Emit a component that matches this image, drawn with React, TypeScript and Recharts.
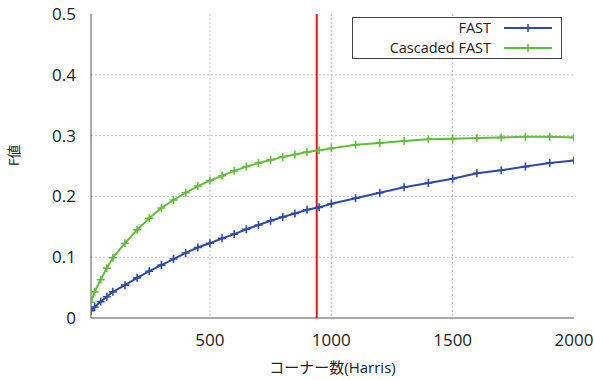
import React from 'react'
import {
  LineChart,
  Line,
  XAxis,
  YAxis,
  CartesianGrid,
  ReferenceLine,
} from 'recharts'

const corners = [
  10, 25, 50, 75, 100, 150, 200, 250, 300, 350, 400, 450, 500, 550, 600, 650, 700, 750, 800, 850,
  900, 950, 1000, 1100, 1200, 1300, 1400, 1500, 1600, 1700, 1800, 1900, 2000,
]
const fastValues = [
  0.012, 0.018, 0.027, 0.035, 0.043, 0.054, 0.066, 0.077, 0.087, 0.097, 0.107, 0.116, 0.123,
  0.131, 0.138, 0.146, 0.153, 0.16, 0.166, 0.172, 0.178, 0.182, 0.188, 0.197, 0.206, 0.215,
  0.222, 0.229, 0.238, 0.243, 0.249, 0.255, 0.259,
]
const cascadedValues = [
  0.026, 0.043, 0.063, 0.082, 0.099, 0.123, 0.145, 0.164, 0.181, 0.194, 0.206, 0.217, 0.226,
  0.234, 0.242, 0.249, 0.255, 0.26, 0.265, 0.269, 0.273, 0.276, 0.279, 0.285, 0.288, 0.291,
  0.294, 0.295, 0.296, 0.297, 0.298, 0.298, 0.297,
]
const xTicks = [500, 1000, 1500, 2000]
const yTicks = [0, 0.1, 0.2, 0.3, 0.4, 0.5]
const threshold = 940

const data = corners.map((c, i) => ({ c, fast: fastValues[i], cascaded: cascadedValues[i] }))

const BLUE = '#2d4aa6'
const GREEN = '#62be3a'
const FONT = '"Open Sans", "Noto Sans CJK JP", sans-serif'

const Plus = (color: string) => (props: any) => {
  const { cx, cy, index } = props
  if (cx == null || cy == null) return <g key={index} />
  return (
    <path
      key={index}
      d={`M${cx - 4},${cy}H${cx + 4}M${cx},${cy - 4}V${cy + 4}`}
      stroke={color}
      strokeWidth={1.6}
      fill="none"
    />
  )
}

const LegendBox = () => {
  const rows = [
    { name: 'FAST', color: BLUE },
    { name: 'Cascaded FAST', color: GREEN },
  ]
  return (
    <div
      style={{
        position: 'absolute',
        left: 352,
        top: 17,
        width: 210,
        height: 42,
        border: '1px solid #444',
        background: '#fff',
        fontFamily: FONT,
        fontSize: 14.5,
        color: '#222',
        boxSizing: 'border-box',
      }}
    >
      {rows.map((r) => (
        <div key={r.name} style={{ display: 'flex', alignItems: 'center', height: 20 }}>
          <span style={{ width: 138, textAlign: 'right', lineHeight: '20px', whiteSpace: 'nowrap' }}>
            {r.name}
          </span>
          <svg width={50} height={20} style={{ marginLeft: 13 }}>
            <line x1={0} y1={10} x2={48} y2={10} stroke={r.color} strokeWidth={2} />
            <path d="M24,6V14" stroke={r.color} strokeWidth={1.6} />
          </svg>
        </div>
      ))}
    </div>
  )
}

export default function App() {
  return (
    <div style={{ position: 'relative', width: 594, height: 380, background: '#fff' }}>
      <style>{'body{margin:0}'}</style>
      <LineChart
        width={594}
        height={380}
        data={data}
        margin={{ top: 14, right: 20, bottom: 0, left: 0 }}
      >
        <CartesianGrid
          stroke="#c4c4c4"
          strokeDasharray="2 2"
          horizontalValues={[0.1, 0.2, 0.3, 0.4]}
          verticalValues={[500, 1000, 1500]}
        />
        <XAxis
          dataKey="c"
          type="number"
          domain={[10, 2000]}
          ticks={xTicks}
          allowDataOverflow
          height={62}
          stroke="#555"
          tickLine={false}
          tick={{ fill: '#222', fontSize: 17, fontFamily: FONT }}
          tickMargin={10}
          label={{
            value: 'コーナー数(Harris)',
            position: 'insideBottom',
            offset: 7,
            fill: '#222',
            fontSize: 15,
            fontFamily: FONT,
          }}
        />
        <XAxis xAxisId="top" orientation="top" dataKey="c" type="number" domain={[10, 2000]} height={0} tick={false} tickLine={false} stroke="#555" />
        <YAxis
          type="number"
          domain={[0, 0.5]}
          ticks={yTicks}
          width={91}
          stroke="#555"
          tickLine={false}
          tickFormatter={(v) => String(Number(v.toFixed(1)))}
          tick={{ fill: '#222', fontSize: 17, fontFamily: FONT }}
          tickMargin={9}
          label={{
            value: 'F値',
            angle: -90,
            position: 'insideLeft',
            offset: 14,
            fill: '#222',
            fontSize: 14,
            fontFamily: FONT,
          }}
        />
        <YAxis yAxisId="right" orientation="right" domain={[0, 0.5]} width={0} tick={false} tickLine={false} stroke="#555" />
        <ReferenceLine x={threshold} stroke="#e8141a" strokeWidth={2} />
        <Line
          dataKey="fast"
          name="FAST"
          stroke={BLUE}
          strokeWidth={2}
          dot={Plus(BLUE)}
          isAnimationActive={false}
        />
        <Line
          dataKey="cascaded"
          name="Cascaded FAST"
          stroke={GREEN}
          strokeWidth={2}
          dot={Plus(GREEN)}
          isAnimationActive={false}
        />
      </LineChart>
      <LegendBox />
    </div>
  )
}
